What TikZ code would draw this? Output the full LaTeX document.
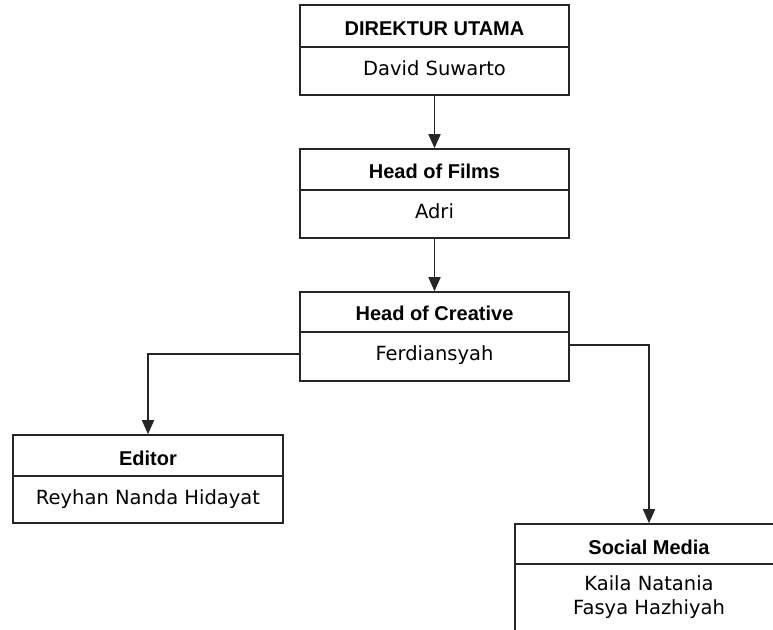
\documentclass[tikz,border=0pt]{standalone}
\usepackage{fontspec}
\setmainfont{DejaVu Sans}
\newfontfamily\titlefont{Liberation Sans}
\usetikzlibrary{arrows.meta}
\begin{document}
\begin{tikzpicture}[x=1pt,y=-1pt,
  box/.style={draw=black!85, line width=1.6pt, inner sep=0pt, fill=white, rectangle},
  divider/.style={draw=black!85, line width=1.6pt},
  titletext/.style={anchor=base, font=\titlefont\bfseries\fontsize{20}{22}\selectfont, inner sep=0pt},
  nametext/.style={anchor=base, font=\fontsize{19.5}{24}\selectfont, inner sep=0pt},
  link/.style={draw=black!85, line width=1.6pt, -{Triangle[length=14pt,width=12pt]}}]
\useasboundingbox (0,0) rectangle (773,629);
\fill[white] (0,0) rectangle (773,629);
\clip (0,0) rectangle (773,629);
% boxes
\node[box, minimum width=269pt, minimum height=90pt] (b1) at (434.5,50) {};
\node[box, minimum width=269pt, minimum height=89pt] (b2) at (434.5,193.5) {};
\node[box, minimum width=269pt, minimum height=89pt] (b3) at (434.5,336.5) {};
\node[box, minimum width=270pt, minimum height=88pt] (ed) at (148,479) {};
\node[box, minimum width=268pt, minimum height=120pt] (sm) at (649,584) {};
% dividers
\draw[divider] ([yshift=-43pt]b1.north west) -- ([yshift=-43pt]b1.north east);
\draw[divider] ([yshift=-42pt]b2.north west) -- ([yshift=-42pt]b2.north east);
\draw[divider] ([yshift=-41pt]b3.north west) -- ([yshift=-41pt]b3.north east);
\draw[divider] ([yshift=-42pt]ed.north west) -- ([yshift=-42pt]ed.north east);
\draw[divider] ([yshift=-41pt]sm.north west) -- ([yshift=-41pt]sm.north east);
% texts
\node[titletext] (t1) at (434.5,35) {DIREKTUR UTAMA};
\node[nametext] (n1) at (434.5,75) {David Suwarto};
\node[titletext] (t2) at (434.5,178) {Head of Films};
\node[nametext] (n2) at (434.5,218) {Adri};
\node[titletext] (t3) at (434.5,320.5) {Head of Creative};
\node[nametext] (n3) at (434.5,360.5) {Ferdiansyah};
\node[titletext] (t4) at (148,465) {Editor};
\node[nametext] (n4) at (148,504) {Reyhan Nanda Hidayat};
\node[titletext] (t5) at (649,554) {Social Media};
\node[nametext] (n5a) at (649,590) {Kaila Natania};
\node[nametext] (n5b) at (649,614) {Fasya Hazhiyah};
% connectors
\draw[link] (b1.south) -- (b2.north);
\draw[link] (b2.south) -- (b3.north);
\draw[link] ([yshift=-17.5pt]b3.west) -| (ed.north);
\draw[link] ([yshift=-8.5pt]b3.east) -| (sm.north);
\end{tikzpicture}
\end{document}
